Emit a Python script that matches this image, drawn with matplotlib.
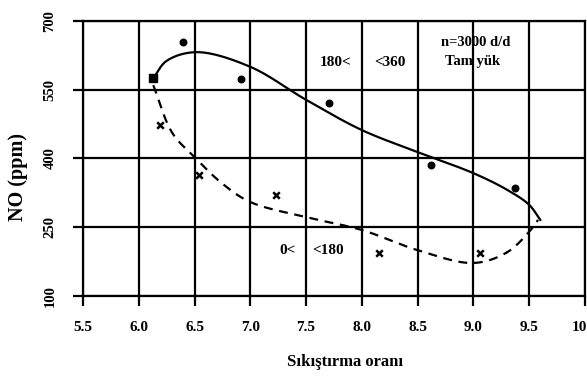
import numpy as np
import matplotlib
matplotlib.use("Agg")
import matplotlib.pyplot as plt

# data
dot_x = [6.40, 6.92, 7.71, 8.62, 9.37]
dot_y = [654, 573, 521, 386, 336]
start_x = [6.13]
start_y = [575]
cross_x = [6.19, 6.54, 7.23, 8.15, 9.06]
cross_y = [473, 364, 320, 194, 194]

solid_x = [6.13, 6.25, 6.52, 7.00, 7.50, 8.00, 8.50, 9.00, 9.30, 9.50, 9.60]
solid_y = [575, 613, 632, 600, 528, 462, 414, 368, 332, 299, 266]
dash_x = [6.13, 6.30, 6.50, 6.75, 7.00, 7.50, 8.00, 8.50, 9.00, 9.30, 9.50, 9.58]
dash_y = [560, 456, 403, 345, 305, 272, 244, 200, 172, 195, 240, 266]

xticks = [5.5, 6.0, 6.5, 7.0, 7.5, 8.0, 8.5, 9.0, 9.5, 10.0]
yticks = [100, 250, 400, 550, 700]


def smooth_curve(xs, ys, n=40, sx=111.6, sy=0.458):
    # centripetal Catmull-Rom through the read points (scaled to pixel-like units)
    p = np.column_stack([np.asarray(xs) * sx, np.asarray(ys) * sy]).astype(float)
    p = np.vstack([2 * p[0] - p[1], p, 2 * p[-1] - p[-2]])
    out = []
    for i in range(1, len(p) - 2):
        P0, P1, P2, P3 = p[i - 1], p[i], p[i + 1], p[i + 2]
        t0 = 0.0
        t1 = t0 + np.linalg.norm(P1 - P0) ** 0.5
        t2 = t1 + np.linalg.norm(P2 - P1) ** 0.5
        t3 = t2 + np.linalg.norm(P3 - P2) ** 0.5
        t = np.linspace(t1, t2, n)[:, None]
        A1 = (t1 - t) / (t1 - t0) * P0 + (t - t0) / (t1 - t0) * P1
        A2 = (t2 - t) / (t2 - t1) * P1 + (t - t1) / (t2 - t1) * P2
        A3 = (t3 - t) / (t3 - t2) * P2 + (t - t2) / (t3 - t2) * P3
        B1 = (t2 - t) / (t2 - t0) * A1 + (t - t0) / (t2 - t0) * A2
        B2 = (t3 - t) / (t3 - t1) * A2 + (t - t1) / (t3 - t1) * A3
        C = (t2 - t) / (t2 - t1) * B1 + (t - t1) / (t2 - t1) * B2
        out.append(C)
    out = np.vstack(out)
    return out[:, 0] / sx, out[:, 1] / sy


plt.rcParams['font.family'] = ['Liberation Serif', 'DejaVu Serif']
plt.rcParams['font.weight'] = 'bold'

fig = plt.figure(figsize=(5.87, 3.76), dpi=100)
ax = fig.add_axes([0.1414, 0.2128, 0.855, 0.7314])
ax.set_xlim(5.5, 10.0)
ax.set_ylim(100, 700)
ax.set_xticks(xticks)
ax.set_yticks(yticks)
ax.set_xticklabels([f"{v:.1f}" for v in xticks], fontsize=11, fontweight='bold')
ax.set_yticklabels([str(v) for v in yticks], fontsize=10.5, fontweight='bold', rotation=90, va='center')
ax.grid(True, color='black', linewidth=1.6)
ax.tick_params(direction='out', length=7, width=1.6)
ax.tick_params(axis='x', pad=11)
ax.tick_params(axis='y', pad=12)
for s in ax.spines.values():
    s.set_linewidth(1.6)

sx, sy = smooth_curve(solid_x, solid_y)
ax.plot(sx, sy, color='black', linewidth=1.6, zorder=3)
dx, dy = smooth_curve(dash_x, dash_y)
ax.plot(dx, dy, color='black', linewidth=1.6, linestyle=(0, (4, 3)), zorder=3)

ax.scatter(dot_x, dot_y, s=22, color='black', marker='o', zorder=4)
ax.scatter(start_x, start_y, s=26, color='black', marker='s', zorder=4)
ax.scatter(cross_x, cross_y, s=22, color='black', marker='x', linewidths=1.8, zorder=4)

wb = dict(facecolor='white', edgecolor='none', pad=1)
ax.text(7.76, 610, "180<", fontsize=11, fontweight='bold', ha='center', va='center', bbox=wb)
ax.text(8.25, 610, "<360", fontsize=11, fontweight='bold', ha='center', va='center', bbox=wb)
ax.text(7.33, 200, "0<", fontsize=11, fontweight='bold', ha='center', va='center', bbox=wb)
ax.text(7.70, 200, "<180", fontsize=11, fontweight='bold', ha='center', va='center', bbox=wb)
ax.text(9.02, 652, "n=3000 d/d", fontsize=10.5, fontweight='bold', ha='center', va='center')
ax.text(8.99, 611, "Tam yük", fontsize=10.5, fontweight='bold', ha='center', va='center')

ax.set_xlabel("Sıkıştırma oranı", fontsize=12, fontweight='bold')
ax.xaxis.set_label_coords(0.522, -0.212)
ax.set_ylabel("NO (ppm)", fontsize=14.5, fontweight='bold')
ax.yaxis.set_label_coords(-0.110, 0.433)

fig.savefig("out.png", dpi=100)
